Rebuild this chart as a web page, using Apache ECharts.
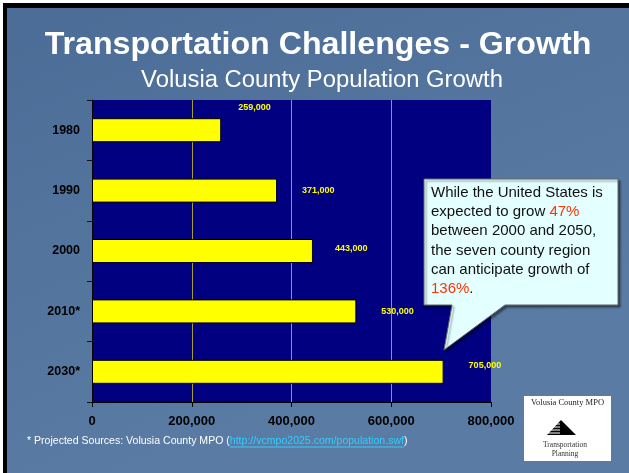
<!DOCTYPE html>
<html><head><meta charset="utf-8">
<script src="https://cdn.jsdelivr.net/npm/echarts@6/dist/echarts.min.js"></script>
<style>html,body{margin:0;padding:0;background:#fff}#c{width:629px;height:473px}</style>
</head><body><div id="c"></div>
<script>
// ---- data ----
const categories = ['1980', '1990', '2000', '2010*', '2030*'];
const population = [259000, 371000, 443000, 530000, 705000];
const xTicks = [0, 200000, 400000, 600000, 800000];
const titleText = 'Transportation Challenges - Growth';
const subtitleText = 'Volusia County Population Growth';
const footerText = '* Projected Sources: Volusia County MPO (';
const footerLink = 'http://vcmpo2025.com/population.swf';
const calloutLines = ['While the United States is', 'expected to grow {r|47%}', 'between 2000 and 2050,', 'the seven county region', 'can anticipate growth of', '{r|136%}.'];
// ---- style-only helpers ----
const labelOffsets = [[12, -23], [20, 0], [17, -2], [20, 0], [20, -6]];
const SANS = "'Liberation Sans', Arial, sans-serif";
const SERIF = "'Liberation Serif', 'Times New Roman', serif";
const fmt = v => Number(v).toLocaleString('en-US');

const mctx = document.createElement('canvas').getContext('2d');
function measure(text, weight, size, family) { mctx.font = weight + ' ' + size + 'px ' + family; return mctx.measureText(text).width; }
function fitSize(text, weight, family, target) { return 100 * target / measure(text, weight, 100, family); }

const titleSize = fitSize(titleText, 'bold', SANS, 547);
const subSize = fitSize(subtitleText, 'normal', SANS, 362);
const footSize = fitSize(footerText + footerLink + ')', 'normal', SANS, 381);
const footPrefixW = measure(footerText, 'normal', footSize, SANS);
const footLinkW = measure(footerLink, 'normal', footSize, SANS);

const chart = echarts.init(document.getElementById('c'), null, { renderer: 'canvas' });
chart.setOption({
  backgroundColor: { type: 'linear', x: 0, y: 0, x2: 0.3, y2: 1, colorStops: [{ offset: 0, color: '#4a6c96' }, { offset: 1, color: '#5a7ca4' }] },
  animation: false,
  grid: { left: 92, top: 100, right: 138, bottom: 71, show: true, backgroundColor: '#000080', borderWidth: 0 },
  xAxis: {
    type: 'value', min: xTicks[0], max: xTicks[xTicks.length - 1], interval: xTicks[1] - xTicks[0],
    axisLine: { show: true, lineStyle: { color: '#000', width: 1 } },
    axisTick: { show: true, length: 5, lineStyle: { color: '#000' } },
    splitLine: { show: true, showMinLine: false, showMaxLine: false, lineStyle: { color: '#a89c3a', width: 1 } },
    axisLabel: { margin: 13, color: '#000', fontWeight: 'bold', fontSize: 13, fontFamily: SANS, formatter: fmt }
  },
  yAxis: {
    type: 'category', data: categories, inverse: true,
    axisLine: { show: true, lineStyle: { color: '#000', width: 1 } },
    axisTick: { show: true, length: 5, lineStyle: { color: '#111' } },
    splitLine: { show: false },
    axisLabel: { margin: 12, color: '#000', fontWeight: 'bold', fontSize: 12.5, fontFamily: SANS }
  },
  series: [{
    type: 'bar', barWidth: 24,
    itemStyle: { color: '#ffff00', borderColor: '#000', borderWidth: 1 },
    label: { show: true, position: 'right', distance: 5, color: '#ffff00', fontSize: 9, fontWeight: 'bold', fontFamily: SANS, formatter: p => fmt(p.value) },
    data: population.map((v, i) => ({ value: v, label: { offset: labelOffsets[i] } }))
  }],
  graphic: [
    // slide frame
    { type: 'rect', shape: { x: 0, y: 0, width: 629, height: 3 }, style: { fill: '#fff' }, silent: true },
    { type: 'rect', shape: { x: 0, y: 3, width: 629, height: 5 }, style: { fill: '#000' }, silent: true },
    { type: 'rect', shape: { x: 0, y: 0, width: 3, height: 473 }, style: { fill: '#fff' }, silent: true },
    { type: 'rect', shape: { x: 3, y: 3, width: 4, height: 470 }, style: { fill: '#000' }, silent: true },
    // titles
    { type: 'text', x: 318, y: 45, style: { text: titleText, font: 'bold ' + titleSize.toFixed(2) + 'px ' + SANS, fill: '#fff', textAlign: 'center', textVerticalAlign: 'middle', align: 'center', verticalAlign: 'middle' } },
    { type: 'text', x: 322, y: 80, style: { text: subtitleText, font: 'normal ' + subSize.toFixed(2) + 'px ' + SANS, fill: '#fff', textAlign: 'center', textVerticalAlign: 'middle', align: 'center', verticalAlign: 'middle' } },
    // callout
    { type: 'polygon', shape: { points: [[424, 179], [618, 179], [618, 305], [505, 305], [444, 350], [452, 305], [424, 305]] },
      style: { fill: '#e4ffff', stroke: '#666', lineWidth: 1, shadowColor: 'rgba(0,0,0,0.45)', shadowOffsetX: 2, shadowOffsetY: 2, shadowBlur: 2 }, z: 100 },
    { type: 'text', x: 431, y: 183, z: 101, style: {
      text: calloutLines.join('\n'), font: 'normal 15px ' + SANS, fill: '#111', lineHeight: 19.3,
      rich: { r: { fill: '#ff3300', color: '#ff3300', font: 'normal 15px ' + SANS, lineHeight: 19.3 } } } },
    // footer
    { type: 'text', x: 27, y: 441, style: {
      text: '{a|' + footerText + '}{b|' + footerLink + '}{a|)}', font: 'normal ' + footSize.toFixed(2) + 'px ' + SANS,
      textVerticalAlign: 'middle', verticalAlign: 'middle', fill: '#fff',
      rich: { a: { fill: '#fff', color: '#fff', font: 'normal ' + footSize.toFixed(2) + 'px ' + SANS }, b: { fill: '#33ccff', color: '#33ccff', font: 'normal ' + footSize.toFixed(2) + 'px ' + SANS } } } },
    { type: 'line', shape: { x1: 27 + footPrefixW, y1: 447, x2: 27 + footPrefixW + footLinkW, y2: 447 }, style: { stroke: '#33ccff', lineWidth: 1 }, silent: true },
    // logo
    { type: 'rect', shape: { x: 524, y: 396, width: 87, height: 65 }, style: { fill: '#fff' }, silent: true },
    { type: 'text', x: 567.5, y: 402.5, style: { text: 'Volusia County MPO', font: 'normal 8.5px ' + SERIF, fill: '#222', textAlign: 'center', textVerticalAlign: 'middle', align: 'center', verticalAlign: 'middle' } },
    { type: 'polygon', shape: { points: [[561, 420], [576, 435], [547, 435]] }, style: { fill: '#000' } },
    { type: 'line', shape: { x1: 545, y1: 424, x2: 560, y2: 424 }, style: { stroke: '#fff', lineWidth: 1 } },
    { type: 'line', shape: { x1: 545, y1: 427, x2: 560, y2: 427 }, style: { stroke: '#fff', lineWidth: 1 } },
    { type: 'line', shape: { x1: 545, y1: 430, x2: 560, y2: 430 }, style: { stroke: '#fff', lineWidth: 1 } },
    { type: 'line', shape: { x1: 545, y1: 433, x2: 560, y2: 433 }, style: { stroke: '#fff', lineWidth: 1 } },
    { type: 'text', x: 565, y: 445, style: { text: 'Transportation', font: 'normal 7.5px ' + SERIF, fill: '#333', textAlign: 'center', textVerticalAlign: 'middle', align: 'center', verticalAlign: 'middle' } },
    { type: 'text', x: 565, y: 454, style: { text: 'Planning', font: 'normal 7.5px ' + SERIF, fill: '#333', textAlign: 'center', textVerticalAlign: 'middle', align: 'center', verticalAlign: 'middle' } }
  ]
});
</script>
</body></html>
